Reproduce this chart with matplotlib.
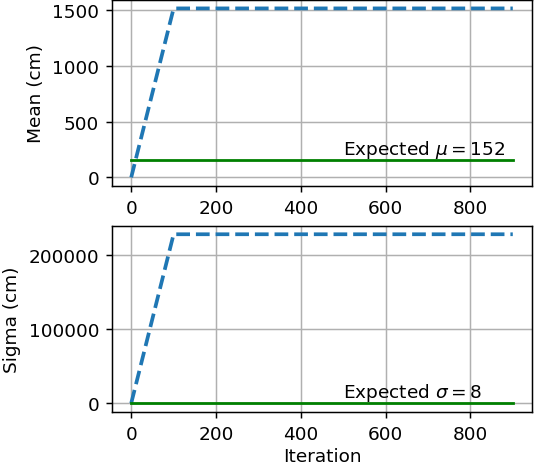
import matplotlib
matplotlib.use("Agg")
import matplotlib.pyplot as plt

iters = [0, 100, 200, 300, 400, 500, 600, 700, 800, 900]
mean_est = [0, 1515, 1515, 1515, 1515, 1515, 1515, 1515, 1515, 1515]
sigma_est = [0, 228000, 228000, 228000, 228000, 228000, 228000, 228000, 228000, 228000]
true_mu = 152
true_sigma = 8

fig, (ax1, ax2) = plt.subplots(2, 1, figsize=(4.0, 3.483), dpi=133.5)
fig.subplots_adjust(left=0.21, right=0.996, top=0.998, bottom=0.1125, hspace=0.215)

ax1.plot(iters, mean_est, '--', color='tab:blue', lw=2)
ax1.plot([iters[0], iters[-1]], [true_mu, true_mu], color='green', lw=1.5)
ax1.text(500, true_mu, r'Expected $\mu=152$', va='bottom')
ax1.set_ylabel('Mean (cm)')
ax1.set_yticks([0, 500, 1000, 1500])
ax1.grid(True)

ax2.plot(iters, sigma_est, '--', color='tab:blue', lw=2)
ax2.plot([iters[0], iters[-1]], [true_sigma, true_sigma], color='green', lw=1.5)
ax2.text(500, true_sigma, r'Expected $\sigma=8$', va='bottom')
ax2.set_ylabel('Sigma (cm)')
ax2.set_xlabel('Iteration', labelpad=2.5)
ax2.set_yticks([0, 100000, 200000])
ax2.grid(True)

for ax in (ax1, ax2):
    ax.set_xticks([0, 200, 400, 600, 800])

fig.savefig('out.png', dpi=133.5)
